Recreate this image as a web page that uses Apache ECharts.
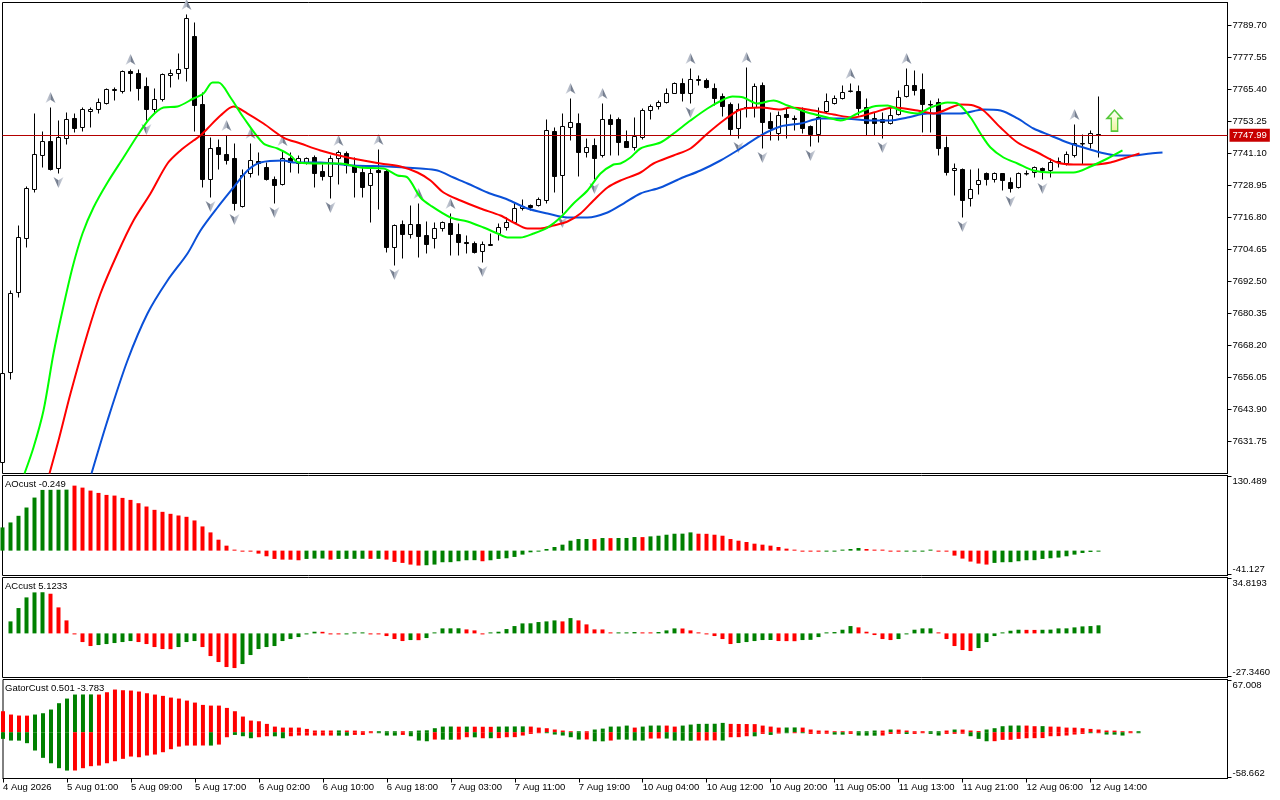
<!DOCTYPE html>
<html><head><meta charset="utf-8">
<script src="https://cdn.jsdelivr.net/npm/echarts@6.0.0/dist/echarts.min.js"></script>
<style>html,body{margin:0;padding:0;background:#fff}#c{width:1280px;height:800px}</style>
</head><body><div id="c"></div>
<script>
// ---------- DATA ----------
const timeLabels = ["4 Aug 2026","5 Aug 01:00","5 Aug 09:00","5 Aug 17:00","6 Aug 02:00","6 Aug 10:00","6 Aug 18:00","7 Aug 03:00","7 Aug 11:00","7 Aug 19:00","10 Aug 04:00","10 Aug 12:00","10 Aug 20:00","11 Aug 05:00","11 Aug 13:00","11 Aug 21:00","12 Aug 06:00","12 Aug 14:00"];

const open = [7623.77,7657.94,7688.32,7708.82,7727.43,7740.34,7745.65,7735.40,7746.79,7754.39,
7750.97,7757.04,7757.80,7760.08,7765.02,7764.64,7772.23,7771.47,7766.54,7757.80,
7761.60,7770.71,7771.47,7773.37,7785.52,7759.70,7731.23,7743.37,7740.72,7739.20,
7720.97,7733.50,7738.06,7735.78,7731.23,7729.33,7739.20,7737.30,7737.68,7739.58,
7734.26,7732.36,7739.20,7741.10,7736.54,7733.88,7728.95,7734.64,7734.26,7705.41,
7714.14,7710.34,7714.14,7709.96,7708.82,7712.62,7714.52,7710.34,7707.30,7706.92,
7703.89,7706.17,7710.72,7713.00,7714.90,7720.21,7721.35,7721.35,7723.25,7749.45,
7732.74,7750.97,7752.49,7741.48,7744.13,7740.34,7754.01,7754.01,7745.65,7743.37,
7747.17,7757.42,7758.94,7760.46,7763.88,7767.67,7763.88,7768.81,7768.81,7765.78,
7762.74,7759.70,7750.59,7758.56,7758.56,7766.92,7753.25,7748.69,7755.90,7754.39,
7757.42,7751.35,7748.31,7757.04,7760.08,7761.98,7764.64,7764.64,7758.56,7754.39,
7754.01,7752.49,7755.90,7762.74,7766.92,7765.40,7759.70,7760.46,7743.37,7734.64,
7735.02,7724.01,7729.33,7733.50,7731.23,7733.50,7730.08,7728.19,7733.31,7733.88,
7735.40,7734.64,7737.68,7737.30,7740.34,7744.70,7744.89,7748.31];

const high = [7657.94,7689.08,7713.76,7728.57,7756.28,7749.45,7758.56,7753.63,7756.66,7756.28,
7758.56,7758.56,7761.98,7765.78,7766.16,7772.61,7772.99,7772.99,7769.95,7765.78,
7771.47,7772.99,7779.07,7793.88,7790.84,7764.26,7747.17,7746.41,7747.93,7744.89,
7735.02,7744.89,7741.48,7737.68,7732.36,7742.24,7741.48,7740.34,7739.58,7740.34,
7736.92,7740.34,7742.24,7741.86,7739.58,7736.16,7735.78,7742.62,7735.02,7714.14,
7715.66,7721.35,7722.11,7715.28,7714.90,7715.28,7718.32,7714.52,7709.96,7707.68,
7707.68,7710.72,7714.52,7716.80,7722.49,7723.63,7721.73,7724.39,7754.01,7750.97,
7756.28,7761.98,7756.28,7746.79,7746.79,7760.08,7755.90,7754.77,7749.83,7754.77,
7758.18,7759.70,7761.22,7765.78,7768.05,7769.57,7773.37,7770.71,7769.57,7767.67,
7763.88,7760.46,7760.08,7773.75,7767.67,7768.05,7756.66,7757.04,7758.18,7755.52,
7758.56,7751.73,7758.56,7763.88,7763.12,7766.92,7767.67,7766.92,7761.98,7756.66,
7756.66,7758.56,7765.02,7773.37,7772.61,7771.47,7761.22,7761.98,7747.55,7737.30,
7735.40,7735.02,7735.40,7733.88,7733.88,7733.50,7731.98,7733.88,7734.64,7736.16,
7735.78,7739.20,7739.58,7741.86,7752.11,7748.31,7749.83,7762.74];

const low = [7620.73,7655.29,7686.42,7705.41,7726.29,7735.78,7734.64,7733.50,7744.51,7749.07,
7749.45,7750.97,7756.28,7759.70,7761.22,7763.88,7764.64,7761.22,7753.63,7756.28,
7760.84,7766.16,7769.19,7768.43,7749.45,7728.19,7724.39,7735.02,7736.92,7719.45,
7720.59,7731.98,7732.74,7730.84,7722.11,7728.95,7733.88,7733.50,7736.92,7728.19,
7730.84,7724.01,7729.33,7733.50,7724.39,7724.39,7714.90,7719.83,7703.51,7698.57,
7701.23,7708.82,7701.61,7703.13,7705.03,7711.48,7702.37,7702.37,7703.13,7703.13,
7699.71,7706.17,7708.06,7711.86,7714.52,7719.45,7719.45,7720.97,7722.11,7726.29,
7718.32,7746.03,7732.36,7739.58,7731.23,7739.58,7740.34,7740.34,7743.37,7742.24,
7746.41,7754.01,7757.80,7760.08,7763.88,7760.84,7760.08,7766.92,7765.78,7759.32,
7755.14,7747.93,7746.79,7754.77,7754.77,7743.00,7746.03,7746.03,7746.79,7749.83,
7748.69,7743.75,7745.27,7756.28,7759.70,7761.60,7764.26,7755.52,7747.93,7747.93,
7746.79,7752.11,7755.52,7762.36,7763.12,7749.07,7749.07,7740.34,7732.74,7725.15,
7716.80,7720.97,7725.53,7728.95,7730.08,7727.05,7726.29,7727.81,7732.74,7731.98,
7731.23,7731.98,7735.78,7736.54,7739.58,7736.92,7742.99,7739.58];

const close = [7657.56,7687.94,7709.20,7727.81,7740.72,7745.65,7735.02,7747.17,7754.01,7750.59,
7757.80,7757.80,7760.46,7765.40,7765.40,7772.23,7771.47,7765.78,7757.80,7761.60,
7771.09,7771.47,7772.99,7792.36,7759.32,7731.23,7742.99,7740.72,7738.44,7722.11,
7732.74,7738.44,7737.30,7731.23,7728.95,7739.20,7737.68,7739.20,7739.20,7733.50,
7732.36,7739.20,7741.48,7736.54,7733.88,7728.19,7733.50,7733.88,7705.41,7713.76,
7710.34,7714.14,7709.58,7706.55,7712.62,7714.90,7710.34,7707.30,7706.92,7703.51,
7706.55,7706.55,7713.00,7714.90,7720.21,7720.97,7720.59,7723.63,7749.83,7732.36,
7751.35,7752.87,7741.48,7743.37,7739.20,7754.01,7752.11,7745.27,7743.37,7747.55,
7757.42,7758.94,7760.46,7763.88,7767.67,7763.88,7769.19,7769.19,7766.16,7761.98,
7758.94,7750.21,7757.80,7758.18,7766.54,7752.87,7750.59,7755.52,7754.77,7754.01,
7750.59,7748.31,7754.77,7760.84,7761.98,7764.26,7764.83,7758.18,7752.49,7752.49,
7752.87,7755.52,7762.36,7766.92,7765.02,7759.70,7759.51,7743.00,7733.88,7735.40,
7723.25,7727.43,7730.84,7731.23,7733.50,7730.84,7727.81,7733.50,7733.50,7735.78,
7734.64,7737.68,7738.06,7740.72,7744.89,7744.89,7748.69,7747.99];

const upFractals = [6,16,23,28,31,35,42,47,52,56,71,75,86,93,106,113,134];
const downFractals = [7,18,26,29,34,41,49,60,70,74,86,92,95,101,110,120,126,130];

const jawPts = [[11.125,7619.59],[13.125,7639.72],[15.625,7662.50],[18.125,7680.34],[20.625,7692.87],[23.125,7703.13],[24.75,7711.86],[26.875,7720.59],[28.875,7728.19],[30.625,7734.64],[32.25,7737.68],[35.125,7738.44],[36.375,7737.68],[39.75,7737.68],[43.875,7736.54],[48.125,7736.16],[52.25,7735.40],[54.375,7734.64],[56.375,7731.98],[58.125,7729.71],[60.625,7726.29],[63.125,7723.63],[65.625,7720.21],[68.125,7718.32],[70.625,7716.80],[73.125,7716.80],[75.625,7718.70],[77.625,7722.11],[79.75,7725.91],[82.25,7728.19],[84.75,7731.60],[87.25,7734.64],[89.75,7738.44],[92.25,7743.00],[94.75,7747.93],[97.25,7751.35],[99.75,7752.49],[102.25,7754.39],[104.75,7754.39],[108.875,7753.63],[111,7753.63],[113.125,7754.77],[115.625,7756.28],[119.75,7756.28],[122.625,7757.80],[124.75,7757.42],[126.875,7754.39],[128.875,7750.59],[131,7747.93],[133.125,7745.27],[135.125,7743.37],[137.25,7741.48],[139.375,7740.34],[141.375,7740.34],[143.5,7741.10],[145,7741.48]];

const teethPts = [[5.875,7619.59],[7,7632.12],[8.5,7649.97],[10.625,7672.75],[12.25,7687.94],[14.375,7703.13],[16.375,7715.66],[18.5,7725.91],[20.625,7737.30],[22.25,7742.24],[23.875,7746.03],[24.75,7747.93],[25.625,7750.59],[27.25,7755.52],[28.875,7758.94],[30.625,7756.28],[32.625,7752.49],[35.125,7747.17],[37.25,7744.89],[39.75,7742.24],[43.125,7739.58],[47.25,7737.30],[49.75,7736.16],[51.875,7733.88],[53.5,7730.84],[55.125,7726.29],[57.25,7723.25],[59.75,7720.21],[62.25,7717.55],[63.875,7714.90],[65.625,7712.62],[67.25,7712.62],[68.875,7713.76],[70.625,7715.28],[72.25,7718.32],[73.875,7723.25],[75.625,7728.19],[77.25,7730.84],[79.75,7733.88],[81.375,7737.30],[83.875,7740.34],[86,7743.00],[88.125,7748.69],[90.125,7753.63],[92.25,7757.80],[94.75,7758.56],[97.25,7757.80],[98.5,7758.56],[101.375,7757.42],[103.875,7755.90],[106.375,7754.77],[108.875,7756.66],[111.375,7758.56],[114.375,7757.42],[116.375,7756.28],[118.875,7758.94],[119.75,7759.70],[121.375,7759.32],[122.625,7757.42],[124.75,7750.97],[126.875,7745.27],[129.375,7741.48],[131.875,7737.68],[133.875,7736.92],[136.375,7736.92],[138.5,7737.68],[140.125,7739.20],[142.125,7741.10]];

const lipsPts = [[2.75,7619.59],[3.875,7629.46],[5.125,7643.51],[6.375,7665.16],[7.5,7681.48],[8.75,7697.81],[10,7710.72],[11.375,7720.59],[13.125,7730.08],[15.125,7739.58],[16.875,7747.93],[18.5,7754.77],[20.125,7758.56],[21.875,7758.94],[23.875,7761.98],[25.125,7763.88],[26.25,7768.05],[27,7768.05],[28.5,7762.36],[30.125,7754.77],[32.625,7744.89],[34.375,7743.00],[36,7740.34],[37,7737.68],[39.75,7737.30],[42.25,7737.30],[44.75,7735.78],[47.625,7735.40],[49.375,7732.74],[50.625,7731.98],[52.25,7724.39],[53.5,7721.35],[56,7716.80],[58.125,7715.28],[60.125,7712.99],[61.875,7710.72],[63.125,7709.20],[64.75,7709.20],[66.375,7710.72],[68.125,7712.99],[69.75,7716.80],[71.375,7722.11],[73.125,7727.05],[74.75,7733.50],[76.375,7736.92],[77.25,7737.30],[78.5,7739.58],[79.75,7743.00],[82.25,7745.27],[83.875,7748.69],[86,7753.63],[88.125,7758.18],[90.125,7761.60],[91.25,7762.74],[92.625,7762.36],[94.375,7760.08],[96.375,7761.22],[98.125,7759.32],[100.625,7756.66],[103.125,7754.77],[104.75,7753.63],[106.875,7756.28],[108.875,7758.94],[110.625,7759.32],[112.25,7757.42],[114.375,7756.28],[116,7758.56],[118.125,7760.46],[119.375,7760.08],[121,7754.77],[122.25,7748.69],[123.5,7743.37],[125.125,7739.58],[126.875,7737.30],[128.875,7734.64],[131,7733.88],[133.875,7733.88],[136,7736.16],[138.125,7739.20],[140,7742.24]];

const aoValues = [40.87,49.62,61.30,75.89,93.41,106.84,107.0,107.2,107.4,114.42,
110.92,105.67,101.58,98.08,96.91,92.82,89.32,83.48,77.65,71.81,
68.30,64.80,61.88,59.55,53.13,42.62,32.11,19.27,8.76,1.75,
-0.29,-1.17,-5.25,-9.92,-14.60,-15.76,-15.90,-16.93,-14.60,-14.01,
-13.90,-15.76,-14.60,-14.50,-14.40,-14.30,-14.50,-14.40,-15.76,-19.85,
-21.60,-24.52,-26.27,-25.69,-24.52,-20.43,-20.30,-18.68,-16.93,-16.80,
-18.68,-16.93,-14.60,-13.43,-11.09,-7.01,-2.92,-1.75,2.92,6.42,
10.51,17.51,20.43,20.50,20.30,22.18,22.00,22.20,22.30,23.94,
23.80,25.10,26.27,28.02,29.77,29.90,32.11,29.77,29.60,28.02,
26.27,20.43,17.51,15.18,12.26,10.51,8.76,6.42,3.50,0.20,
-0.58,-0.70,-1.17,-0.90,-0.30,0.58,2.92,4.67,2.92,1.17,
0.58,-1.17,-1.30,-0.88,-0.58,-0.29,0.58,-0.10,-0.58,-8.76,
-14.01,-19.27,-22.77,-24.52,-21.60,-20.43,-20.30,-18.68,-16.93,-16.80,
-14.60,-13.43,-12.26,-9.92,-7.01,-4.09,-2.34,-0.249];
const aoColors = "gggggggggr"+"rrrrrrrrrr"+"rrrrrrrrrr"+"rrrrrrrrgg"+"grggggrgrr"+"rrrggggggg"+"rggggggggg"+"ggggrgrggg"+"rggggggrrr"+"rrrrrrrrrr"+"rrrgggggrr"+"rrrggggrrr"+"rrrrgggggg"+"gggggggg";

const acValues = [null,7.61,16.07,22.83,26.00,26.10,25.16,16.49,8.24,-0.30,
-5.50,-8.03,-7.40,-6.76,-6.13,-5.50,-4.86,-5.50,-6.76,-8.67,
-9.94,-10.00,-8.67,-5.50,-4.86,-8.67,-14.38,-18.18,-21.35,-21.99,
-19.45,-13.74,-9.94,-8.67,-8.03,-4.86,-3.59,-2.33,-0.42,1.06,
1.00,-0.21,-0.25,-0.10,0.21,0.42,-0.21,-0.25,-1.69,-3.59,
-4.86,-4.23,-4.30,-2.96,0.42,3.17,3.20,3.25,2.54,1.90,
-0.21,0.10,1.06,2.75,4.65,6.34,6.40,7.19,7.61,8.24,
7.61,9.72,8.24,5.71,2.54,2.50,0.42,0.50,0.60,0.85,
0.63,0.42,0.85,1.90,3.17,3.10,1.90,0.21,-0.21,-1.69,
-3.59,-6.76,-6.13,-5.50,-4.86,-4.23,-4.20,-4.86,-4.90,-4.95,
-4.23,-4.10,-2.33,0.10,0.85,2.33,4.65,3.81,1.06,-1.06,
-3.59,-4.23,-3.59,-0.42,2.33,3.17,3.20,0.21,-3.59,-8.03,
-10.57,-11.20,-9.30,-5.50,-1.69,0.42,1.69,2.33,2.25,2.20,
2.30,2.40,3.17,3.20,3.81,4.44,4.65,5.1233];
const acColors = "ggggggrrrr"+"rrgggggrrr"+"rrgggrrrrr"+"gggggggggg"+"rrrgggrrrr"+"rgrgggggrr"+"rggggggggg"+"rgrrrrrggg"+"rrgggrrrrr"+"rrgggggrrr"+"gggggggrrr"+"rrgggggrrr"+"rrggggggrr"+"gggggggg";

const gatorUp = [27.2,22.9,21.6,21.5,22.9,24.6,29.4,37.6,43.6,48.8,
48.9,49.0,48.8,51.8,55.3,54.4,54.0,52.7,50.5,48.8,
47.1,44.9,43.6,41.0,38.4,35.4,34.5,34.5,31.5,27.2,
20.3,15.1,14.2,10.8,7.3,6.0,6.0,6.0,4.3,2.2,
2.2,2.2,2.3,2.2,2.1,1.3,0.3,0.5,0.9,1.0,
0.6,0.9,2.2,2.5,5.2,7.3,7.4,7.2,7.3,7.2,
7.1,7.0,7.3,7.4,7.5,7.6,7.3,6.0,5.2,3.5,
2.2,0.2,0.4,0.3,3.5,4.7,7.3,7.4,8.6,6.0,
7.3,8.6,8.7,8.6,7.3,8.6,9.9,10.8,10.9,11.0,
12.1,10.8,10.7,10.6,10.5,8.6,7.3,6.0,6.1,6.2,
6.0,3.5,2.2,2.1,0.9,0.5,0.2,0.4,0.6,2.2,
2.1,3.5,3.4,2.2,0.9,0.3,0.5,0.8,2.2,3.5,
3.4,2.2,1.5,3.5,5.2,7.8,8.6,8.7,8.6,7.8,
7.9,7.3,7.2,6.0,5.9,5.2,4.3,3.5,2.2,2.1,
0.9,0.6,0.501];
const gatorUpColors = "rrrrgggggg"+"ggrrrrrrrr"+"rrrrrrrrrr"+"rrrrrrrrrr"+"rrgrrrrggg"+"rggggggrgr"+"rrggggrrrr"+"rrgrgggggr"+"gggrrggggg"+"grrrrrrrgg"+"rrrrrrrggg"+"rgrrrrggrg"+"rrrgggggrr"+"grrrrrrrrr"+"rrg";

const gatorDown = [-8.6,-10.8,-10.9,-14.2,-23.7,-33.2,-40.2,-46.6,-49.7,-49.6,
-46.6,-44.0,-43.2,-40.2,-37.6,-34.5,-31.5,-32.4,-30.2,-28.9,
-25.9,-22.0,-18.6,-17.3,-17.3,-17.2,-17.3,-16.0,-6.5,-3.5,
-5.2,-7.8,-6.5,-5.2,-5.3,-7.8,-5.2,-4.3,-4.3,-4.3,
-4.3,-4.3,-4.4,-4.5,-3.5,-3.5,-0.9,-1.3,-4.3,-4.4,
-3.5,-5.2,-10.8,-11.7,-9.5,-9.6,-9.7,-9.5,-6.5,-6.6,
-7.8,-7.8,-7.7,-6.5,-6.4,-4.3,-2.2,-0.9,-1.0,-3.0,
-4.3,-6.5,-9.5,-9.4,-11.7,-11.8,-10.8,-9.5,-9.6,-10.8,
-10.8,-8.2,-8.1,-8.2,-10.8,-10.9,-11.0,-10.8,-10.7,-10.6,
-10.8,-6.5,-6.4,-5.2,-5.3,-2.2,-3.5,-1.7,-1.3,-1.2,
-1.3,-2.2,-2.1,-2.0,-3.0,-3.1,-2.2,-4.3,-4.4,-4.5,
-4.3,-2.2,-2.1,-2.3,-2.2,-1.3,-2.2,-4.3,-2.2,-2.1,
-2.0,-5.2,-8.6,-11.7,-11.6,-9.9,-9.8,-8.6,-7.8,-7.7,
-7.6,-5.2,-5.1,-4.3,-3.0,-2.2,-1.3,-1.2,-3.0,-3.1,
-4.3,-0.6,-0.9];
const gatorDownColors = "gggggggggr"+"rrrrrrrrrr"+"rrrrrrgrrg"+"ggrrggrrrr"+"rrggrrrggg"+"rgggrggrrg"+"rgrrrrrrgg"+"gggrggrggg"+"grrggggrrr"+"grrrgrgrgr"+"grrrggrggg"+"rrrgrrggrr"+"rgggrrrrrr"+"rrrrrrgrgg"+"grg";

const priceTicks = [7631.75,7643.90,7656.05,7668.20,7680.35,7692.50,7704.65,7716.80,7728.95,7741.10,7753.25,7765.40,7777.55,7789.70];
const lastPrice = 7747.99;
const aoScale = [-41.127, 130.489];
const acScale = [-27.3460, 34.8193];
const gatorScale = [-58.662, 67.008];
const panelTitles = ["AOcust -0.249", "ACcust 5.1233", "GatorCust 0.501 -3.783"];
const signalIdx = [139];
const signalPrice = [7753.6];

// ---------- CHART ----------
const FONT = '"Liberation Sans", Arial, sans-serif';
const FS = 9.5;
const GREEN = '#008000', RED = '#ff0000';
const colorOf = (s, i) => s.charAt(i) === 'g' ? GREEN : RED;
const XMAX = 153.125;
const GL = 2.5, GW = 1225;

const barItems = (vals, cols) => vals.map((v, i) => v == null ? null : ({value: [i, v], itemStyle: {color: colorOf(cols, i)}})).filter(d => d);

const candleData = open.map((o, i) => [i, o, close[i], low[i], high[i]]);
const tickIdx = timeLabels.map((_, j) => j * 8);

const fracGrad = new echarts.graphic.LinearGradient(0, 0, 1, 0, [
  {offset: 0, color: '#d4d8e0'}, {offset: 0.5, color: '#a9b0be'},
  {offset: 0.52, color: '#6f7889'}, {offset: 1, color: '#8e97a6'}]);
const fracPath = 'path://M5,0 L10,10 L5,7 L0,10 Z';

function subAxis(g, scale, ext, dec) {
  return {
    type: 'value', gridIndex: g, position: 'right', min: ext[0], max: ext[1],
    axisLine: {show: true, onZero: false, lineStyle: {color: '#000', width: 1}},
    axisTick: {show: true, length: 4, customValues: scale, lineStyle: {color: '#000'}},
    axisLabel: {customValues: scale, margin: 5, color: '#000', fontSize: FS, fontFamily: FONT, lineHeight: 9,
      formatter: v => v > 0 ? '\n' + v.toFixed(dec) : v.toFixed(dec) + '\n'},
    splitLine: {show: false}
  };
}

const option = {
  animation: false,
  backgroundColor: '#ffffff',
  textStyle: {fontFamily: FONT},
  title: panelTitles.map((t, j) => ({
    text: t, left: 5, top: [479, 581, 683][j], padding: 0,
    textStyle: {fontSize: FS, fontWeight: 'normal', color: '#000', fontFamily: FONT}
  })),
  grid: [
    {left: GL, top: 2.5, width: GW, height: 471, show: true, borderColor: '#000', borderWidth: 1},
    {left: GL, top: 475.5, width: GW, height: 100, show: true, borderColor: '#000', borderWidth: 1},
    {left: GL, top: 577.5, width: GW, height: 100, show: true, borderColor: '#000', borderWidth: 1},
    {left: GL, top: 679.5, width: GW, height: 99, show: true, borderColor: '#000', borderWidth: 1}
  ],
  xAxis: [
    {type: 'value', gridIndex: 0, min: 0, max: XMAX, show: false, axisLine: {onZero: false}},
    {type: 'value', gridIndex: 1, min: 0, max: XMAX, show: false, axisLine: {onZero: false}},
    {type: 'value', gridIndex: 2, min: 0, max: XMAX, show: false, axisLine: {onZero: false}},
    {type: 'value', gridIndex: 3, min: 0, max: XMAX, position: 'bottom',
      axisLine: {show: true, onZero: false, lineStyle: {color: '#000'}},
      axisTick: {show: true, length: 4, customValues: tickIdx, lineStyle: {color: '#000'}},
      axisLabel: {customValues: tickIdx, formatter: v => timeLabels[Math.round(v / 8)], align: 'left',
        margin: 4, color: '#000', fontSize: FS, fontFamily: FONT},
      splitLine: {show: false}}
  ],
  yAxis: [
    {type: 'value', gridIndex: 0, position: 'right', min: 7619.60, max: 7798.43,
      axisLine: {show: true, onZero: false, lineStyle: {color: '#000'}},
      axisTick: {show: true, length: 4, customValues: priceTicks, lineStyle: {color: '#000'}},
      axisLabel: {customValues: priceTicks, formatter: v => v.toFixed(2), margin: 5, color: '#000', fontSize: FS, fontFamily: FONT},
      splitLine: {show: false}},
    subAxis(1, aoScale, [-43.767, 132.249], 3),
    subAxis(2, acScale, [-27.9803, 35.4536], 4),
    subAxis(3, gatorScale, [-59.9576, 68.3036], 3)
  ],
  series: [
    {
      type: 'candlestick', xAxisIndex: 0, yAxisIndex: 0, data: candleData,
      encode: {x: 0, y: [1, 2, 3, 4]}, barWidth: 4, silent: true,
      itemStyle: {color: '#ffffff', color0: '#000000', borderColor: '#000000', borderColor0: '#000000', borderWidth: 1},
      markLine: {
        silent: true, symbol: ['none', 'none'], animation: false,
        data: [{yAxis: lastPrice}],
        lineStyle: {color: '#b40000', width: 1, type: 'solid'},
        label: {show: true, position: 'end', formatter: lastPrice.toFixed(2), color: '#fff',
          backgroundColor: '#c80000', padding: [2, 3, 1, 3], fontSize: FS, fontFamily: FONT, distance: 2},
        emphasis: {disabled: true}
      }
    },
    {type: 'line', xAxisIndex: 0, yAxisIndex: 0, data: jawPts, showSymbol: false, smooth: 0.3, silent: true,
      lineStyle: {color: '#0a50d8', width: 2}},
    {type: 'line', xAxisIndex: 0, yAxisIndex: 0, data: teethPts, showSymbol: false, smooth: 0.3, silent: true,
      lineStyle: {color: '#ff0000', width: 2}},
    {type: 'line', xAxisIndex: 0, yAxisIndex: 0, data: lipsPts, showSymbol: false, smooth: 0.3, silent: true,
      lineStyle: {color: '#00ff00', width: 2}},
    {type: 'scatter', xAxisIndex: 0, yAxisIndex: 0, silent: true,
      data: upFractals.map(i => [i, high[i]]), symbol: fracPath, symbolSize: [10, 11], symbolOffset: [0, -10],
      itemStyle: {color: fracGrad, opacity: 1}},
    {type: 'scatter', xAxisIndex: 0, yAxisIndex: 0, silent: true,
      data: downFractals.map(i => [i, low[i]]), symbol: fracPath, symbolSize: [10, 11], symbolOffset: [0, 9], symbolRotate: 180,
      itemStyle: {color: fracGrad, opacity: 1}},
    {type: 'scatter', xAxisIndex: 0, yAxisIndex: 0, silent: true,
      data: signalIdx.map((i, j) => [i, signalPrice[j]]),
      symbol: 'path://M7,0 L14,8 L10,8 L10,20 L4,20 L4,8 L0,8 Z', symbolSize: [15, 21],
      itemStyle: {color: new echarts.graphic.LinearGradient(0, 0, 0, 1, [{offset: 0, color: '#ffffff'}, {offset: 1, color: '#eef39a'}]),
        borderColor: '#55c83a', borderWidth: 1.5, opacity: 1}},
    {type: 'bar', xAxisIndex: 1, yAxisIndex: 1, barWidth: 4, barMinHeight: 1, silent: true, data: barItems(aoValues, aoColors)},
    {type: 'bar', xAxisIndex: 2, yAxisIndex: 2, barWidth: 4, barMinHeight: 1, silent: true, data: barItems(acValues, acColors)},
    {type: 'bar', xAxisIndex: 3, yAxisIndex: 3, barWidth: 4, barMinHeight: 1, barGap: '-100%', silent: true, data: barItems(gatorUp, gatorUpColors)},
    {type: 'bar', xAxisIndex: 3, yAxisIndex: 3, barWidth: 4, barMinHeight: 1, barGap: '-100%', silent: true, data: barItems(gatorDown, gatorDownColors)}
  ]
};

const chart = echarts.init(document.getElementById('c'), null, {renderer: 'canvas'});
chart.setOption(option);
</script></body></html>
